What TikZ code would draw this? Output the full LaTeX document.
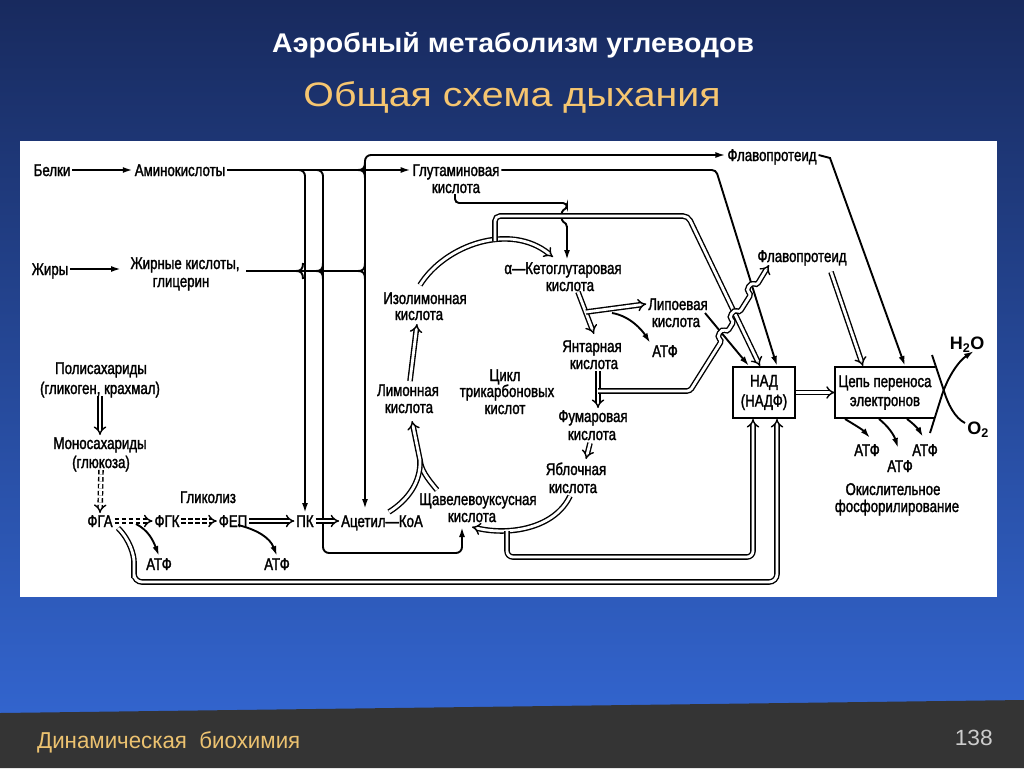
\documentclass[tikz,border=0pt]{standalone}
\usepackage{fontspec}
\usepackage{graphicx}
\setmainfont{Liberation Sans}
\newfontfamily\dgf[FakeStretch=0.78,FakeBold=1.6]{Liberation Sans}
\usetikzlibrary{arrows.meta}
\definecolor{bgtop}{RGB}{24,42,94}
\definecolor{bgbot}{RGB}{50,100,205}
\definecolor{foot}{RGB}{52,52,52}
\definecolor{gold}{RGB}{246,198,112}
\definecolor{gold2}{RGB}{236,194,112}
\definecolor{pnum}{RGB}{205,205,205}
\tikzset{
 lb/.style={font=\dgf\fontsize{17}{18}\selectfont, inner sep=0pt, outer sep=2pt, text height=12pt, text depth=0pt, text=black},
 ln/.style={draw=black, line width=1.9pt},
 arr/.style={ln, -{Latex[length=10pt,width=6pt]}},
 dbn/.style={draw=black, line width=1.4pt, double=white, double distance=2.8pt},
 dbl/.style={dbn, -{Implies}},
 dbd/.style={dbl, dash pattern=on 4.5pt off 2.5pt},
}
\begin{document}
\begin{tikzpicture}[x=1pt,y=-1pt]
\useasboundingbox (0,0) rectangle (1024,768);
\shade[top color=bgtop,bottom color=bgbot] (0,0) rectangle (1024,712);
\fill[foot] (0,713) -- (1024,700) -- (1024,768) -- (0,768) -- cycle;
\fill[white] (20,141) rectangle (997,597);

\node[text=white,font=\bfseries\fontsize{27}{29}\selectfont, inner sep=0] (t1) at (513,45) {\resizebox{482pt}{\height}{Аэробный метаболизм углеводов}};
\node[text=gold,font=\fontsize{34}{36}\selectfont, inner sep=0] (t2) at (512,97) {\resizebox{417pt}{\height}{Общая схема дыхания}};
\node[text=gold2,font=\fontsize{23}{25}\selectfont,anchor=west, inner sep=0] (foot1) at (37,742) {\resizebox{263pt}{\height}{Динамическая\ \ биохимия}};
\node[text=pnum,font=\fontsize{22}{24}\selectfont,anchor=east, inner sep=0] (pg) at (993,738) {\resizebox{38pt}{\height}{138}};

% labels
\node[lb] (bel) at (52,170) {Белки};
\node[lb] (amino) at (180,170) {Аминокислоты};
\node[lb] (zhiry) at (50,269) {Жиры};
\node[lb] (zhk1) at (185,263) {Жирные кислоты,};
\node[lb] (zhk2) at (181,281) {глицерин};
\node[lb] (poly1) at (101,368) {Полисахариды};
\node[lb] (poly2) at (100,388) {(гликоген, крахмал)};
\node[lb] (mono1) at (100,443) {Моносахариды};
\node[lb] (mono2) at (101,462) {(глюкоза)};
\node[lb] (fga) at (100,521) {ФГА};
\node[lb] (fgk) at (167,521) {ФГК};
\node[lb] (fep) at (233,521) {ФЕП};
\node[lb] (pk) at (305,521) {ПК};
\node[lb] (acoa) at (382,521) {Ацетил—КоА};
\node[lb] (glik) at (208,497) {Гликолиз};
\node[lb] (atf1) at (159,564) {АТФ};
\node[lb] (atf2) at (277,564) {АТФ};
\node[lb] (glu1) at (456,170) {Глутаминовая};
\node[lb] (glu2) at (456,187) {кислота};
\node[lb] (flav1) at (772,155) {Флавопротеид};
\node[lb] (flav2) at (802,256) {Флавопротеид};
\node[lb] (izo1) at (425,298) {Изолимонная};
\node[lb] (izo2) at (419,314) {кислота};
\node[lb] (akg1) at (563,268) {α—Кетоглутаровая};
\node[lb] (akg2) at (570,285) {кислота};
\node[lb] (lim1) at (408,390) {Лимонная};
\node[lb] (lim2) at (409,407) {кислота};
\node[lb] (cikl1) at (505,375) {Цикл};
\node[lb] (cikl2) at (507,391) {трикарбоновых};
\node[lb] (cikl3) at (505,408) {кислот};
\node[lb] (lip1) at (678,304) {Липоевая};
\node[lb] (lip2) at (676,321) {кислота};
\node[lb] (atf3) at (665,351) {АТФ};
\node[lb] (yant1) at (592,346) {Янтарная};
\node[lb] (yant2) at (594,363) {кислота};
\node[lb] (fum1) at (593,416) {Фумаровая};
\node[lb] (fum2) at (592,434) {кислота};
\node[lb] (yab1) at (576,469) {Яблочная};
\node[lb] (yab2) at (573,487) {кислота};
\node[lb] (shch1) at (478,499) {Щавелевоуксусная};
\node[lb] (shch2) at (472,516) {кислота};
\node[lb] (atf4) at (867,450) {АТФ};
\node[lb] (atf5) at (925,450) {АТФ};
\node[lb] (atf6) at (900,466) {АТФ};
\node[lb] (ok1) at (893,489) {Окислительное};
\node[lb] (ok2) at (897,506) {фосфорилирование};
\node[font=\bfseries\fontsize{18}{19}\selectfont, inner sep=0] (h2o) at (967,345) {$\mathbf{H_2O}$};
\node[font=\bfseries\fontsize{18}{19}\selectfont, inner sep=0] (o2) at (978,430) {$\mathbf{O_2}$};

\node[draw=black, line width=1.9pt, minimum width=62pt, minimum height=51pt, inner sep=0, font=\dgf\fontsize{17}{20}\selectfont, align=center] (nad) at (764,392.5) {НАД\\(НАДФ)};
\node[minimum width=100pt, minimum height=51pt, inner sep=0, font=\dgf\fontsize{17}{19}\selectfont, align=center] (cep) at (885,392.5) {Цепь переноса\\электронов};
\draw[ln, line join=miter] (cep.north east) -- (cep.north west) -- (cep.south west) -- (cep.south east);

\coordinate (nadT1) at (749,366);
\coordinate (nadT2) at (760,366);
\coordinate (nadT3) at (777,366);
\coordinate (nadB1) at (753,419);
\coordinate (nadB2) at (777,419);
\coordinate (cepT1) at (863,366);
\coordinate (cepT2) at (905,366);
\coordinate (zhIn) at (121,269);
\coordinate (shIn) at (462,527);

% left inputs
\draw[arr] (bel) -- (amino);
\draw[arr] (zhiry.east) -- (zhIn);
\draw[arr] (amino.east) -- (glu1.west);
\draw[ln] (246,271) -- (362,271);
\draw[arr, rounded corners=6pt] (294,170) -| (pk.north);
\draw[arr, rounded corners=6pt] (314,170) -| (323,553) -| (shIn);
\draw[arr, rounded corners=6pt] (365,280) |- (flav1.west);
\draw[arr] (365,270) -- (365,509);
\foreach \x/\y in {303/271,323/271,365/271,365/170} {
 \draw[ln] (\x-7,\y) .. controls (\x-2,\y) and (\x,\y-2) .. (\x,\y-8);
 \draw[ln] (\x-7,\y) .. controls (\x-2,\y) and (\x,\y+2) .. (\x,\y+8);
}

% glycolysis
\draw[dbl] (poly2.south) -- (mono1.north);
\draw[dbd] (mono2.south) -- (fga.north);
\draw[dbd] (fga.east) -- (fgk.west);
\draw[dbd] (fgk.east) -- (fep.west);
\draw[dbl] (fep.east) -- (pk.west);
\draw[dbl] (pk.east) -- (acoa.west);
\draw[arr] (136,524) .. controls (148,530) and (153,540) .. (atf1.north);
\draw[arr] (238,525) .. controls (258,530) and (270,538) .. (atf2.north);
\draw[dbl, rounded corners=8pt] (118,528) .. controls (130,540) and (134,555) .. (134,570) -- (134,582) -- (777,582) -- (nadB2);

% glutamate
\draw[arr, rounded corners=4pt] (glu1.east) -- (716,170) -- (nadT3);
\draw[arr, rounded corners=4pt] (455,194) -- (455,203) -- (567,203) -- (567,209) .. controls (561,211) and (561,221) .. (567,223) -- (akg1.north -| 567,0);

% TCA cycle
\draw[dbl] (420,285) .. controls (445,245) and (510,222) .. (553,257);
\draw[dbl, rounded corners=5pt] (495,241) -- (495,216) -- (688,216) -- (nadT2);
\draw[dbl] (578,292) -- (594,334);
\draw[dbl] (586,312) -- (lip1.west);
\draw[arr] (612,313) .. controls (630,316) and (642,330) .. (atf3.north west);
\draw[dbl] (598,371) -- (598,408);
\draw[dbl] (590,443) -- (586,459);
\draw[dbl] (570,496) .. controls (555,528) and (510,536) .. (472,527);
\draw[dbl, rounded corners=6pt] (507,531) -- (507,557) -- (753,557) -- (nadB1);
\draw[dbn] (437,490) .. controls (427,478) and (421,470) .. (420,460);
\draw[dbl] (389,512) .. controls (408,500) and (421,482) .. (420,460) -- (412,421);
\draw[dbl] (410,381) -- (417,324);
\draw[arr] (705,313) -- (nadT1);
\draw[dbl, rounded corners=3pt] (598,391) -- (690,391) -- (721.9,340.3)
  .. controls (716.0,336.6) and (721.4,328.2) .. (727.3,331.9) -- (734.0,321.0)
  .. controls (728.1,317.3) and (733.5,308.9) .. (739.4,312.6) -- (751.2,293.8)
  .. controls (745.3,290.1) and (750.7,281.7) .. (756.6,285.4) -- (769,265);

% right part
\draw[arr] (flav1.east) -- (830,158) -- (cepT2);
\draw[dbl] (831,272) -- (cepT1);
\draw[dbl] (nad.east) -- (cep.west);
\draw[ln] (932,355) -- (943,388) .. controls (948,405) and (955,418) .. (965,423);
\draw[arr] (930,433) -- (941,398) .. controls (948,375) and (960,360) .. (974,351);
\draw[arr] (845,419) .. controls (855,425) and (863,430) .. (870,438);
\draw[arr] (879,419) .. controls (888,426) and (894,435) .. (898,448);
\draw[arr] (907,419) .. controls (914,424) and (919,430) .. (923,437);
\end{tikzpicture}
\end{document}
